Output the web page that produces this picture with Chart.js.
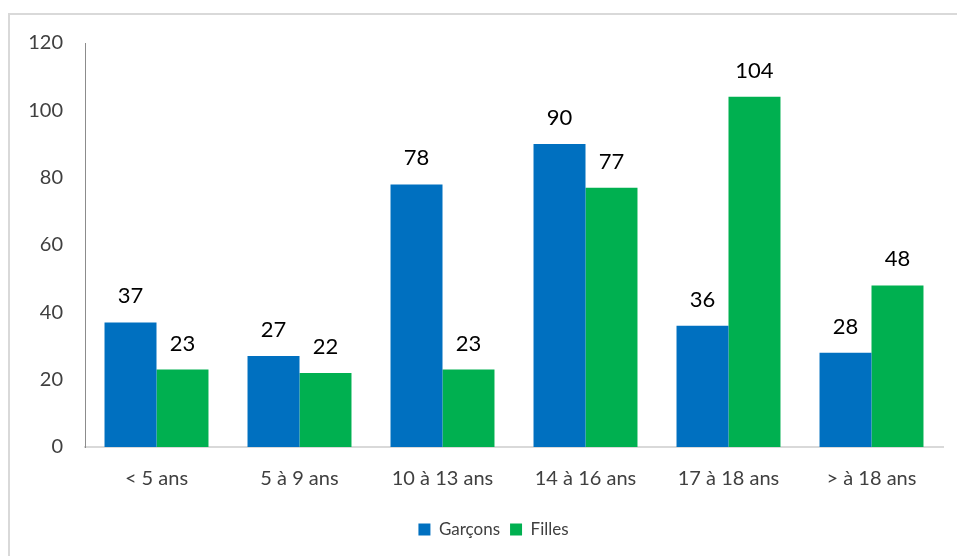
<!DOCTYPE html>
<html>
<head>
<meta charset="utf-8">
<script src="https://cdn.jsdelivr.net/npm/chart.js@4"></script>
<style>
  html, body { margin: 0; padding: 0; background: #fff; }
  #wrap { position: relative; width: 957px; height: 556px; overflow: hidden; }
  #frame { position: absolute; left: 8px; top: 13px; width: 1000px; height: 600px;
           border-left: 2px solid #d9d9d9; border-top: 2px solid #d9d9d9; }
  canvas { position: absolute; left: 0; top: 0; }
</style>
</head>
<body>
<div id="wrap">
  <div id="frame"></div>
  <canvas id="c" width="957" height="556"></canvas>
</div>
<script>
const categories = ["< 5 ans", "5 à 9 ans", "10 à 13 ans", "14 à 16 ans", "17 à 18 ans", "> à 18 ans"];
const garcons = [37, 27, 78, 90, 36, 28];
const filles = [23, 22, 23, 77, 104, 48];
const yTicks = [0, 20, 40, 60, 80, 100, 120];

const FONT = "Lato, 'Open Sans', sans-serif";

const dataLabels = {
  id: 'dataLabels',
  afterDatasetsDraw(chart) {
    const ctx = chart.ctx;
    ctx.save();
    ctx.font = "22px " + FONT;
    ctx.fillStyle = "#000000";
    ctx.textAlign = "center";
    ctx.textBaseline = "alphabetic";
    chart.data.datasets.forEach((ds, i) => {
      const meta = chart.getDatasetMeta(i);
      meta.data.forEach((el, j) => {
        ctx.fillText(String(ds.data[j]), el.x, el.y - 19);
      });
    });
    ctx.restore();
  }
};

const legendShift = {
  id: 'legendShift',
  afterLayout(chart) {
    const lg = chart.legend;
    if (lg) {
      lg.left += 22; lg.right += 22;
      lg.adjustHitBoxes();
    }
  }
};

new Chart(document.getElementById('c'), {
  type: 'bar',
  data: {
    labels: categories,
    datasets: [
      { label: 'Garçons', data: garcons, backgroundColor: '#0070C0', borderWidth: 0 },
      { label: 'Filles', data: filles, backgroundColor: '#00B050', borderWidth: 0 }
    ]
  },
  options: {
    responsive: false,
    animation: false,
    devicePixelRatio: 1,
    layout: { padding: { left: 0, right: 14, top: 43, bottom: 8 } },
    datasets: { bar: { categoryPercentage: 0.727, barPercentage: 1.0 } },
    plugins: {
      legend: {
        position: 'bottom',
        labels: {
          boxWidth: 12, boxHeight: 12, padding: 10,
          color: '#404040',
          font: { family: FONT, size: 17 }
        }
      },
      tooltip: { enabled: false }
    },
    scales: {
      x: {
        grid: { display: false, drawTicks: false },
        border: { display: true, color: '#d9d9d9', width: 2 },
        ticks: { color: '#404040', font: { family: FONT, size: 20 }, padding: 20, maxRotation: 0 },
        afterFit(scale) { scale.height = 64; }
      },
      y: {
        min: 0, max: 120,
        afterBuildTicks(scale) { scale.ticks = yTicks.map(v => ({ value: v })); },
        grid: { display: false, drawTicks: false },
        border: { display: true, color: '#8c8c8c', width: 1 },
        ticks: { color: '#404040', font: { family: FONT, size: 20 }, padding: 22 },
        afterFit(scale) { scale.width = 85; }
      }
    }
  },
  plugins: [dataLabels, legendShift]
});
</script>
</body>
</html>
